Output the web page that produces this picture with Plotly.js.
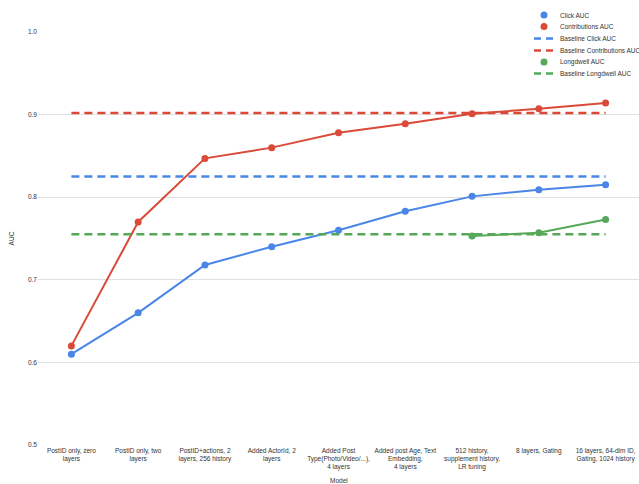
<!DOCTYPE html>
<html>
<head>
<meta charset="utf-8">
<script src="https://cdn.plot.ly/plotly-3.0.1.min.js"></script>
<style>html,body{margin:0;padding:0;background:#fff;}#chart{width:639px;height:484px;}</style>
</head>
<body>
<div id="chart"></div>
<script>
var categories = [
  "PostID only, zero<br>layers",
  "PostID only, two<br>layers",
  "PostID+actions, 2<br>layers, 256 history",
  "Added ActorId, 2<br>layers",
  "Added Post<br>Type(Photo/Video/...),<br>4 layers",
  "Added post Age, Text<br>Embedding,<br>4 layers",
  "512 history,<br>supplement history,<br>LR tuning",
  "8 layers, Gating",
  "16 layers, 64-dim ID,<br>Gating, 1024 history"
];
var clickAUC = [0.610, 0.660, 0.718, 0.740, 0.760, 0.783, 0.801, 0.809, 0.815];
var contributionsAUC = [0.620, 0.770, 0.847, 0.860, 0.878, 0.889, 0.901, 0.907, 0.914];
var longdwellAUC = [null, null, null, null, null, null, 0.753, 0.757, 0.773];
var baselineClick = 0.825;
var baselineContributions = 0.902;
var baselineLongdwell = 0.755;
var yTicks = [0.5, 0.6, 0.7, 0.8, 0.9, 1.0];
var seriesNames = ["Click AUC", "Contributions AUC", "Baseline Click AUC",
                   "Baseline Contributions AUC", "Longdwell AUC", "Baseline Longdwell AUC"];

var blue = "#4a86e8", red = "#db4a38", green = "#55a858";
var colors = [blue, red, blue, red, green, green];
var isBaseline = [false, false, true, true, false, true];
function flat(v){ return categories.map(function(){ return v; }); }
var dash = "8px,5px";

var traces = [
  {x: categories, y: clickAUC, name: seriesNames[0], mode: "lines+markers",
   line: {color: blue, width: 2}, marker: {color: blue, size: 7}},
  {x: categories, y: contributionsAUC, name: seriesNames[1], mode: "lines+markers",
   line: {color: red, width: 2}, marker: {color: red, size: 7}},
  {x: categories, y: flat(baselineClick), name: seriesNames[2], mode: "lines",
   line: {color: blue, width: 2.5, dash: dash}},
  {x: categories, y: flat(baselineContributions), name: seriesNames[3], mode: "lines",
   line: {color: red, width: 2.5, dash: dash}},
  {x: categories, y: longdwellAUC, name: seriesNames[4], mode: "lines+markers",
   line: {color: green, width: 2}, marker: {color: green, size: 7}},
  {x: categories, y: flat(baselineLongdwell), name: seriesNames[5], mode: "lines",
   line: {color: green, width: 2.5, dash: dash}}
];

// plot area in pixels: x 38..639, y 32..445
var L = 38, R = 639, T = 32, B = 445;
function px2x(p){ return (p - L) / (R - L); }
function px2y(p){ return (B - p) / (B - T); }

var legendRows = [15, 26.5, 38.5, 50.5, 62, 73.5];
var symX = 544, txtX = 558;
var shapes = [], annotations = [];
seriesNames.forEach(function(n, i){
  var yy = px2y(legendRows[i]);
  if (isBaseline[i]) {
    shapes.push({type: "line", xref: "paper", yref: "paper", xsizemode: "pixel",
      xanchor: px2x(symX), x0: -10, x1: 10, y0: yy, y1: yy,
      line: {color: colors[i], width: 2.5, dash: "7px,5px"}});
  } else {
    shapes.push({type: "circle", xref: "paper", yref: "paper", xsizemode: "pixel", ysizemode: "pixel",
      xanchor: px2x(symX), yanchor: yy, x0: -3.5, x1: 3.5, y0: -3.5, y1: 3.5,
      fillcolor: colors[i], line: {width: 0}});
  }
  annotations.push({text: n, xref: "paper", yref: "paper", x: px2x(txtX), y: yy,
    xanchor: "left", yanchor: "middle", showarrow: false, font: {size: 6.5, color: "#333"}});
});
annotations.push({text: "Model", xref: "paper", yref: "paper", x: 0.5, y: px2y(480),
  xanchor: "center", yanchor: "middle", showarrow: false, font: {size: 6.5, color: "#333"}});

var layout = {
  width: 639, height: 484,
  margin: {l: L, r: 0, t: T, b: 484 - B},
  paper_bgcolor: "#fff", plot_bgcolor: "#fff",
  font: {family: "Liberation Sans, Arial, sans-serif", size: 6.5, color: "#333"},
  showlegend: false,
  shapes: shapes,
  annotations: annotations,
  xaxis: {type: "category", range: [-0.5, 8.5], showgrid: false, zeroline: false,
          showline: false, ticks: "", tickangle: 0, tickfont: {size: 6.5, color: "#333"},
          automargin: false, ticklabelstandoff: 0},
  yaxis: {range: [0.5, 1.0], tickvals: yTicks, tickformat: ".1f", showgrid: true,
          gridcolor: "#e0e0e0", gridwidth: 1, zeroline: false, showline: false, ticks: "",
          tickfont: {size: 6.5, color: "#333"}, automargin: false,
          title: {text: "AUC", font: {size: 6.5, color: "#333"}, standoff: 12}}
};

Plotly.newPlot("chart", traces, layout, {displayModeBar: false, staticPlot: true});
</script>
</body>
</html>
